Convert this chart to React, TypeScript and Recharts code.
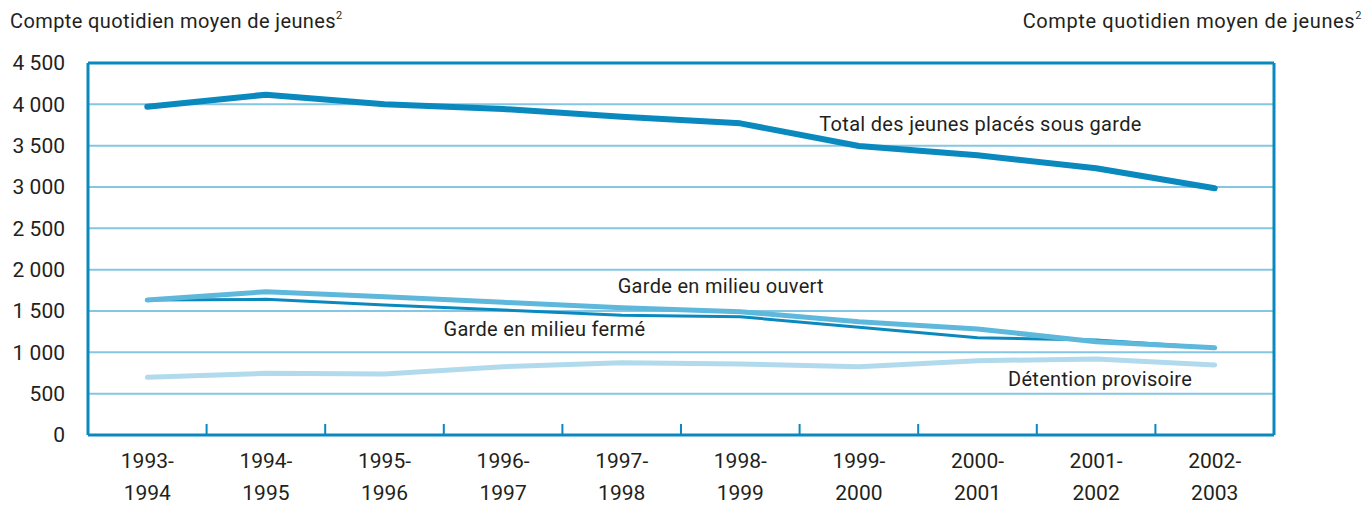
import React from 'react';
import { LineChart, Line, XAxis, YAxis, CartesianGrid, ReferenceLine, ReferenceDot } from 'recharts';

const categories = ['1993-1994', '1994-1995', '1995-1996', '1996-1997', '1997-1998', '1998-1999', '1999-2000', '2000-2001', '2001-2002', '2002-2003'];
const totalValues = [3971, 4117, 4000, 3943, 3850, 3770, 3496, 3383, 3226, 2984];
const ouvertValues = [1633, 1733, 1673, 1605, 1540, 1492, 1371, 1282, 1129, 1055];
const fermeValues = [1633, 1641, 1572, 1512, 1450, 1431, 1303, 1177, 1149, 1055];
const detentionValues = [698, 746, 738, 826, 875, 859, 826, 899, 919, 847];
const yTicks = [0, 500, 1000, 1500, 2000, 2500, 3000, 3500, 4000, 4500];
const axisTitle = 'Compte quotidien moyen de jeunes';

const seriesLabels = [
  { text: 'Total des jeunes placés sous garde', category: '2000-2001', value: 3677 },
  { text: 'Garde en milieu ouvert', category: '1997-1998', value: 1712 },
  { text: 'Garde en milieu fermé', category: '1995-1996', value: 1192 },
  { text: 'Détention provisoire', category: '2001-2002', value: 593 },
];
const labelStyles = [
  { anchor: 'middle', dx: 3 },
  { anchor: 'start', dx: -4 },
  { anchor: 'start', dx: 59 },
  { anchor: 'middle', dx: 4 },
];

const data = categories.map((c, i) => ({
  cat: c,
  total: totalValues[i],
  ouvert: ouvertValues[i],
  ferme: fermeValues[i],
  detention: detentionValues[i],
}));

const FONT = 'Roboto, "Liberation Sans", sans-serif';
const DARK = '#0A89BF';
const TEXT = '#231F20';

const fmt = (v: number) => (v >= 1000 ? `${Math.floor(v / 1000)} ${String(v % 1000).padStart(3, '0')}` : String(v));

const XTick = (props: any) => {
  const { x, y, payload, index, width, visibleTicksCount } = props;
  const [a, b] = String(payload.value).split('-');
  const off = payload.offset != null && payload.offset > 0 ? payload.offset : width / visibleTicksCount / 2;
  return (
    <g>
      {index < visibleTicksCount - 1 && (
        <line x1={x + off} x2={x + off} y1={y} y2={y - 11} stroke={DARK} strokeWidth={2} />
      )}
      <text x={x} y={y + 33} textAnchor="middle" fontSize={21} fill={TEXT} fontFamily={FONT}>{a + '-'}</text>
      <text x={x} y={y + 65} textAnchor="middle" fontSize={21} fill={TEXT} fontFamily={FONT}>{b}</text>
    </g>
  );
};

export default function App() {
  return (
    <div style={{ position: 'absolute', left: 0, top: 0, width: 1369, height: 506, background: '#fff' }}>
      <LineChart width={1369} height={506} data={data} margin={{ top: 63, right: 0, bottom: 0, left: 0 }}>
        <CartesianGrid horizontal vertical={false} stroke="#84C6E4" strokeWidth={2} yAxisId="left" />
        <XAxis
          dataKey="cat"
          scale="band"
          height={71}
          tickLine={false}
          tickSize={0}
          tickMargin={0}
          axisLine={{ stroke: DARK, strokeWidth: 3 }}
          tick={<XTick />}
          interval={0}
        />
        <YAxis
          yAxisId="left"
          width={88}
          domain={[0, 4500]}
          ticks={yTicks}
          tickFormatter={fmt}
          tickLine={false}
          tickMargin={17}
          axisLine={{ stroke: DARK, strokeWidth: 3 }}
          tick={{ fontSize: 21, fill: TEXT, fontFamily: FONT }}
          interval={0}
        />
        <YAxis
          yAxisId="right"
          orientation="right"
          width={95}
          domain={[0, 4500]}
          ticks={yTicks}
          tickFormatter={fmt}
          tickLine={false}
          tickMargin={70}
          axisLine={{ stroke: DARK, strokeWidth: 3 }}
          tick={{ fontSize: 21, fill: TEXT, fontFamily: FONT, textAnchor: 'end' }}
          interval={0}
        />
        <ReferenceLine yAxisId="left" y={4500} stroke={DARK} strokeWidth={3} />
        <Line yAxisId="left" type="linear" dataKey="detention" stroke="#B1DAEC" strokeWidth={5} dot={false} isAnimationActive={false} strokeLinecap="round" strokeLinejoin="round" />
        <Line yAxisId="left" type="linear" dataKey="ferme" stroke={DARK} strokeWidth={3} dot={false} isAnimationActive={false} strokeLinecap="round" strokeLinejoin="round" />
        <Line yAxisId="left" type="linear" dataKey="ouvert" stroke="#5DB8DC" strokeWidth={5} dot={false} isAnimationActive={false} strokeLinecap="round" strokeLinejoin="round" />
        <Line yAxisId="left" type="linear" dataKey="total" stroke={DARK} strokeWidth={6} dot={false} isAnimationActive={false} strokeLinecap="round" strokeLinejoin="round" />
        {seriesLabels.map((l, i) => (
          <ReferenceDot
            key={l.text}
            yAxisId="left"
            x={l.category}
            y={l.value}
            r={0}
            fill="none"
            stroke="none"
            ifOverflow="visible"
            label={{
              content: (p: any) => {
                const vb = p.viewBox || {};
                const cx = (vb.x ?? 0) + (vb.width ?? 0) / 2;
                const cy = (vb.y ?? 0) + (vb.height ?? 0) / 2;
                return (
                  <text x={cx + labelStyles[i].dx} y={cy} textAnchor={labelStyles[i].anchor as any} fontSize={20} letterSpacing={0.3} fill={TEXT} fontFamily={FONT}>
                    {l.text}
                  </text>
                );
              },
            }}
          />
        ))}
      </LineChart>
      <svg width={1369} height={506} style={{ position: 'absolute', left: 0, top: 0, pointerEvents: 'none' }}>
        <text x={10} y={28} fontSize={20} letterSpacing={0.4} fill={TEXT} fontFamily={FONT}>
          {axisTitle}
          <tspan fontSize={11} dy={-9}>2</tspan>
        </text>
        <text x={1362} y={28} fontSize={20} letterSpacing={0.6} fill={TEXT} fontFamily={FONT} textAnchor="end">
          {axisTitle}
          <tspan fontSize={11} dy={-9}>2</tspan>
        </text>
      </svg>
    </div>
  );
}
